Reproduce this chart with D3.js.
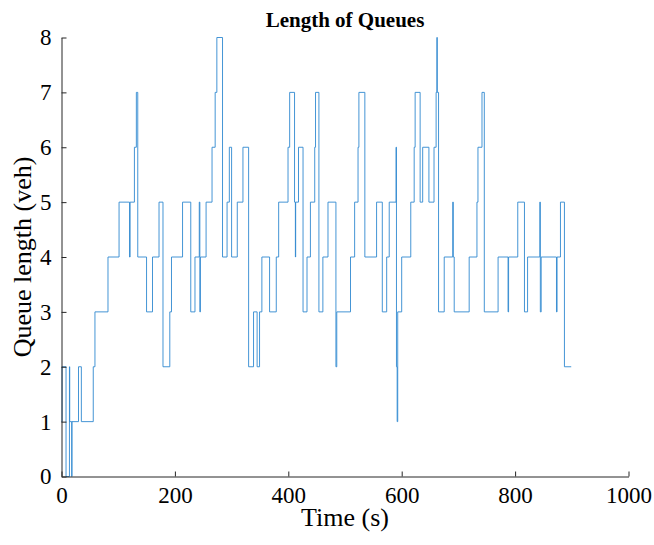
<!DOCTYPE html>
<html>
<head>
<meta charset="utf-8">
<script src="https://cdn.jsdelivr.net/npm/d3@7"></script>
<style>
  html, body { margin: 0; padding: 0; background: #fff; }
  svg { display: block; }
  text { font-family: "Liberation Serif", "Times New Roman", serif; fill: #000; }
</style>
</head>
<body>
<svg id="chart" width="654" height="545"></svg>
<script>
// Step data: time (s) at which the queue length changes, and the new value
const times = [0, 1, 8, 14, 14.5, 18, 18.5, 30, 35, 56, 59, 82, 101.5, 120, 121, 128.6, 132, 134.5,
  150, 160.5, 172, 179, 191, 194, 213.5, 228, 235.4, 243, 244, 245, 255, 265.5, 271, 274, 284,
  292, 296, 300, 310, 320, 330, 338.7, 345, 349.3, 353.4, 367, 378.8, 383, 399.5, 402.4, 411,
  412.5, 413, 418, 426, 433, 439, 446.6, 448, 454, 461, 470, 484, 485.5, 509.7, 517, 523, 524.5,
  535, 555.7, 565.8, 573.5, 578, 590, 590.8, 592, 593, 600, 616, 622, 623.7, 632.5, 637, 648,
  657, 660.7, 662, 662.8, 665, 675, 690, 691, 692.6, 719, 732.7, 734.5, 741.6, 745.7, 770,
  787.6, 788.5, 804.7, 816.5, 822, 843.6, 844.5, 846, 873, 874, 880, 887, 899];
const queue = [1, 2, 0, 2, 1, 0, 1, 2, 1, 2, 3, 4, 5, 4, 5, 6, 7, 4,
  3, 4, 5, 2, 3, 4, 5, 3, 4, 5, 3, 4, 5, 6, 7, 8, 4,
  5, 6, 4, 5, 6, 2, 3, 2, 3, 4, 3, 4, 5, 6, 7, 5,
  4, 5, 6, 3, 4, 5, 6, 7, 3, 4, 5, 2, 3, 4, 5, 6, 7,
  4, 5, 3, 4, 5, 6, 2, 1, 3, 4, 5, 6, 7, 5, 6, 5,
  6, 7, 8, 7, 3, 4, 5, 4, 3, 4, 5, 6, 7, 3, 4,
  3, 4, 5, 3, 4, 5, 3, 4, 3, 4, 5, 2, 2];
const xTicks = [0, 200, 400, 600, 800, 1000];
const yTicks = [0, 1, 2, 3, 4, 5, 6, 7, 8];

const titleText = "Length of Queues";
const xLabel = "Time (s)";
const yLabel = "Queue length (veh)";

const svg = d3.select("#chart");
const x = d3.scaleLinear().domain([0, 1000]).range([61.5, 628.5]);
const y = d3.scaleLinear().domain([0, 8]).range([476.5, 37.5]);
const axisColor = "#262626";

const data = times.map((t, i) => ({ t, v: queue[i] }));

const line = d3.line().x(d => x(d.t)).y(d => y(d.v)).curve(d3.curveStepAfter);
svg.append("path")
  .datum(data)
  .attr("d", line)
  .attr("fill", "none")
  .attr("stroke", "#3089d0")
  .attr("stroke-width", 0.9);

// X axis
const xAxis = d3.axisBottom(x).tickValues(xTicks).tickFormat(d3.format("d"))
  .tickSizeInner(-5).tickSizeOuter(0).tickPadding(10);
const gx = svg.append("g").attr("transform", `translate(0,${y(0)})`).call(xAxis);
gx.select(".domain").attr("stroke", axisColor);
gx.selectAll(".tick line").attr("stroke", axisColor);
gx.selectAll(".tick text").attr("font-size", 23).attr("font-family", "Liberation Serif").attr("fill", "#000").attr("dy", "0.71em");

// Y axis
const yAxis = d3.axisLeft(y).tickValues(yTicks).tickFormat(d3.format("d"))
  .tickSizeInner(-5).tickSizeOuter(0).tickPadding(10);
const gy = svg.append("g").attr("transform", `translate(${x(0)},0)`).call(yAxis);
gy.select(".domain").attr("stroke", axisColor);
gy.selectAll(".tick line").attr("stroke", axisColor);
gy.selectAll(".tick text").attr("font-size", 23).attr("font-family", "Liberation Serif").attr("fill", "#000");

// Title
svg.append("text")
  .attr("x", (x(0) + x(1000)) / 2)
  .attr("y", 27)
  .attr("text-anchor", "middle")
  .attr("font-size", 21)
  .attr("font-weight", "bold")
  .text(titleText);

// Axis labels
svg.append("text")
  .attr("x", (x(0) + x(1000)) / 2)
  .attr("y", 526)
  .attr("text-anchor", "middle")
  .attr("font-size", 26)
  .text(xLabel);

svg.append("text")
  .attr("transform", `translate(31,${(y(0) + y(8)) / 2}) rotate(-90)`)
  .attr("text-anchor", "middle")
  .attr("font-size", 26)
  .text(yLabel);
</script>
</body>
</html>
